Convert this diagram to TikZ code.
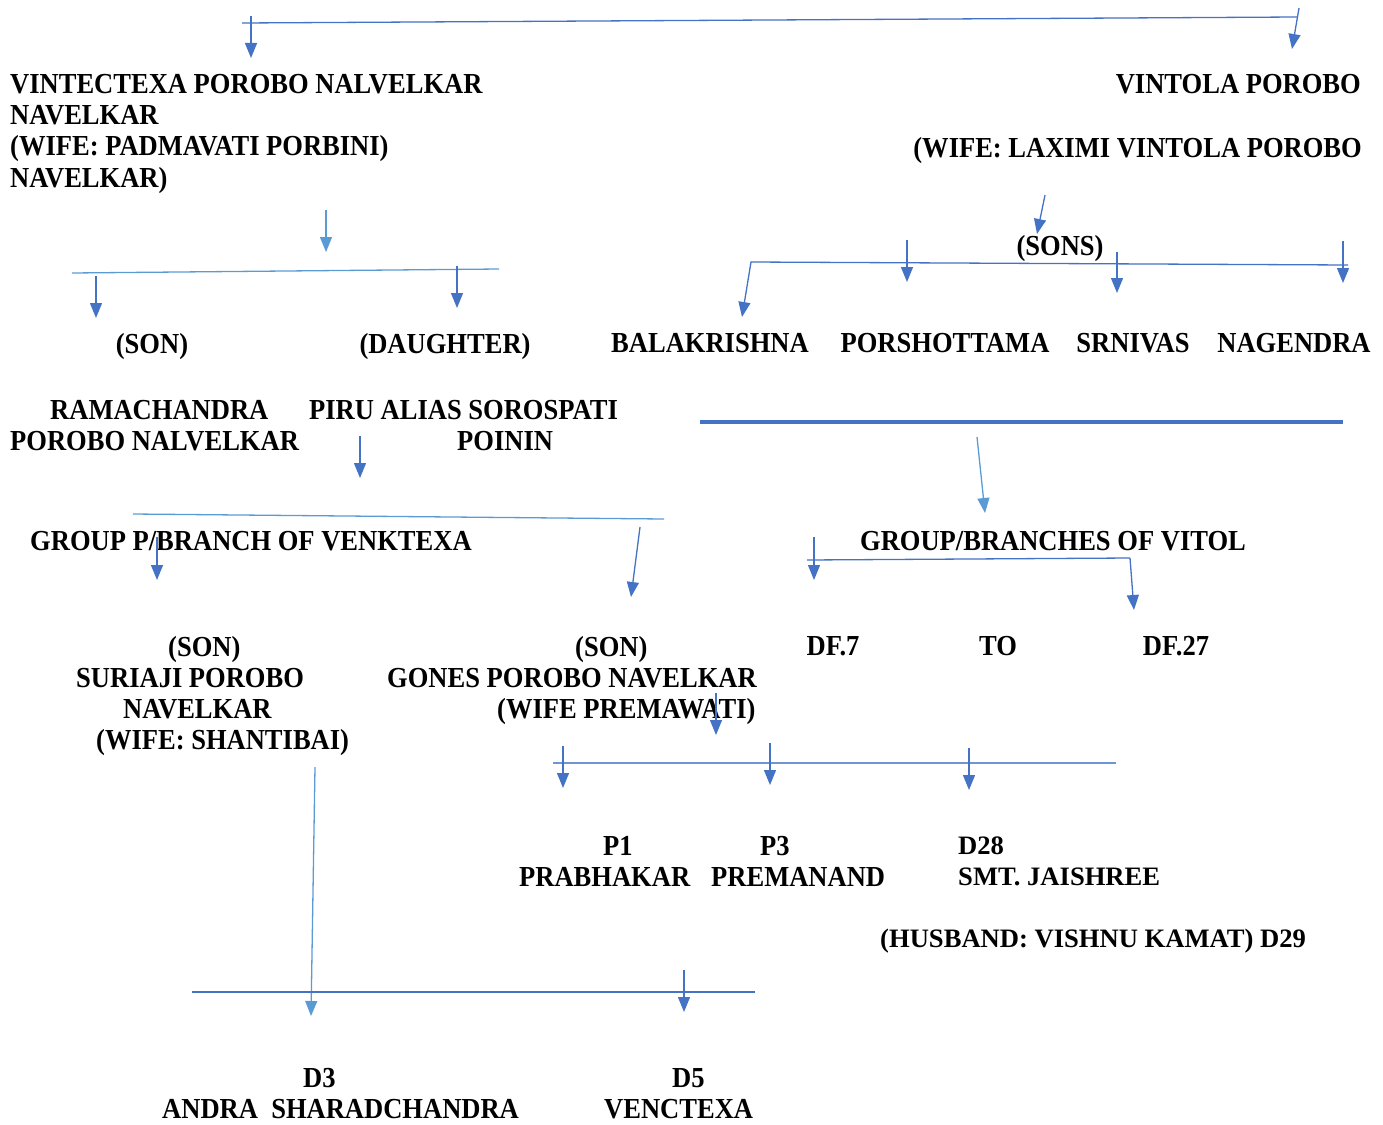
\documentclass[tikz,border=0pt]{standalone}
\usepackage{fontspec}
\setmainfont{Liberation Serif}
\newfontfamily\tallserif[FakeStretch=0.915]{Liberation Serif}
\usetikzlibrary{arrows.meta}
\definecolor{famblue}{HTML}{4472C4}
\definecolor{paleblue}{HTML}{5B9BD5}
\definecolor{barblue}{HTML}{6F95D6}

\tikzset{
  person/.style={inner sep=0pt, anchor=north west, align=left,
    font=\fontsize{29}{31.2}\tallserif\bfseries},
  plainperson/.style={inner sep=0pt, anchor=north west, align=left,
    font=\fontsize{26.6}{31}\selectfont\bfseries},
  link/.style={draw=famblue, line width=1.3pt},
  palelink/.style={draw=paleblue, line width=1.3pt},
  thickbar/.style={draw=famblue, line width=4pt},
}

\begin{document}
\begin{tikzpicture}[x=1pt,y=-1pt,>={Triangle[width=12pt,length=15pt]}]
\useasboundingbox (0,0) rectangle (1383,1124);

% --- people and labels
\node[person] (vintectexa) at (10,74) {VINTECTEXA POROBO NALVELKAR\\NAVELKAR\\(WIFE: PADMAVATI PORBINI)\\NAVELKAR)};
\node[person, anchor=north east] (vintola) at (1361,74) {VINTOLA POROBO};
\node[person, anchor=north east] (laximi) at (1362,137) {(WIFE: LAXIMI VINTOLA POROBO};
\node[person, anchor=north] (sons) at (1060,235) {(SONS)};
\node[person, anchor=north] (son) at (152,333) {(SON)};
\node[person, anchor=north] (daughter) at (445,333) {(DAUGHTER)};
\node[person, anchor=north] (balakrishna) at (710,333) {BALAKRISHNA};
\node[person, anchor=north] (porshottama) at (945,333) {PORSHOTTAMA};
\node[person, anchor=north] (srnivas) at (1133,333) {SRNIVAS};
\node[person, anchor=north] (nagendra) at (1294,333) {NAGENDRA};
\node[person] (ramachandra) at (10,400) {\hspace*{40pt}RAMACHANDRA\\POROBO NALVELKAR};
\node[person] (piru) at (309,400) {PIRU ALIAS SOROSPATI\\\hspace*{148pt}POININ};
\node[person] (venktexa) at (30,531) {GROUP P/BRANCH OF VENKTEXA};
\node[person, anchor=north] (vitol) at (1053,531) {GROUP/BRANCHES OF VITOL};
\node[person] (suriaji) at (76,636) {\hspace*{92pt}(SON)\\SURIAJI POROBO\\\hspace*{47pt}NAVELKAR\\\hspace*{20pt}(WIFE: SHANTIBAI)};
\node[person] (gones) at (387,636) {\hspace*{188pt}(SON)\\GONES POROBO NAVELKAR\\\hspace*{110pt}(WIFE PREMAWATI)};
\node[person, anchor=north] (dfseven) at (833,636) {DF.7};
\node[person, anchor=north] (upto) at (998,636) {TO};
\node[person, anchor=north] (dftwentyseven) at (1176,636) {DF.27};
\node[person] (prabhakar) at (519,836) {\hspace*{84pt}P1\\PRABHAKAR};
\node[person] (premanand) at (711,836) {\hspace*{49pt}P3\\PREMANAND};
\node[plainperson] (jaishree) at (958,837) {D28\\SMT. JAISHREE};
\node[plainperson] (kamat) at (880,929) {(HUSBAND: VISHNU KAMAT) D29};
\node[person] (sharad) at (162,1068) {\hspace*{141pt}D3\\ANDRA\ \ SHARADCHANDRA};
\node[person] (venctexa) at (604,1068) {\hspace*{68pt}D5\\VENCTEXA};

% --- bar and arrow ends
\coordinate (topL) at (242,23);   \coordinate (topR) at (1297,17);
\coordinate (vinA) at (251,16);   \coordinate (vinB) at (251,58);
\coordinate (volA) at (1299,8);   \coordinate (volB) at (1292,49);
\coordinate (kidA) at (326,210);  \coordinate (kidB) at (326,252);
\coordinate (kidL) at (72,273);   \coordinate (kidR) at (499,269);
\coordinate (sonA) at (96,276);   \coordinate (sonB) at (96,318);
\coordinate (dauA) at (457,266);  \coordinate (dauB) at (457,308);
\coordinate (snsA) at (1045,195); \coordinate (snsB) at (1037,234);
\coordinate (snsL) at (751,262);  \coordinate (snsR) at (1348,265);
\coordinate (balB) at (742,317);
\coordinate (porA) at (907,240);  \coordinate (porB) at (907,282);
\coordinate (srnA) at (1117,252); \coordinate (srnB) at (1117,293);
\coordinate (nagA) at (1343,241); \coordinate (nagB) at (1343,283);
\coordinate (sepL) at (700,422);  \coordinate (sepR) at (1343,422);
\coordinate (vitA) at (977,437);  \coordinate (vitB) at (985,513);
\coordinate (grpA) at (360,436);  \coordinate (grpB) at (360,478);
\coordinate (grpL) at (133,514);  \coordinate (grpR) at (664,519);
\coordinate (surA) at (157,537);  \coordinate (surB) at (157,580);
\coordinate (gonA) at (640,527);  \coordinate (gonB) at (631,597);
\coordinate (dfsA) at (814,537);  \coordinate (dfsB) at (814,580);
\coordinate (dfL) at (807,560);   \coordinate (dfR) at (1130,558);
\coordinate (dftB) at (1134,610);
\coordinate (pkA) at (716,693);   \coordinate (pkB) at (716,735);
\coordinate (pkL) at (553,763);   \coordinate (pkR) at (1116,763);
\coordinate (p1A) at (563,746);   \coordinate (p1B) at (563,788);
\coordinate (p3A) at (770,743);   \coordinate (p3B) at (770,785);
\coordinate (d28A) at (969,748);  \coordinate (d28B) at (969,790);
\coordinate (shA) at (315,767);   \coordinate (shB) at (311,1016);
\coordinate (dL) at (192,992);    \coordinate (dR) at (755,992);
\coordinate (d5A) at (684,970);   \coordinate (d5B) at (684,1012);

% --- connectors
\draw[link] (topL) -- (topR);
\draw[link,->] (vinA) -- (vinB);
\draw[link,->] (volA) -- (volB);
\draw[palelink,->] (kidA) -- (kidB);
\draw[palelink] (kidL) -- (kidR);
\draw[link,->] (sonA) -- (sonB);
\draw[link,->] (dauA) -- (dauB);
\draw[link,->] (snsA) -- (snsB);
\draw[link,->] (snsR) -- (snsL) -- (balB);
\draw[link,->] (porA) -- (porB);
\draw[link,->] (srnA) -- (srnB);
\draw[link,->] (nagA) -- (nagB);
\draw[thickbar] (sepL) -- (sepR);
\draw[palelink,->] (vitA) -- (vitB);
\draw[link,->] (grpA) -- (grpB);
\draw[palelink] (grpL) -- (grpR);
\draw[link,->] (surA) -- (surB);
\draw[link,->] (gonA) -- (gonB);
\draw[link,->] (dfsA) -- (dfsB);
\draw[link] (dfL) -- (dfR);
\draw[link,->] (dfR) -- (dftB);
\draw[link,->] (pkA) -- (pkB);
\draw[draw=barblue, line width=1.3pt] (pkL) -- (pkR);
\draw[link,->] (p1A) -- (p1B);
\draw[link,->] (p3A) -- (p3B);
\draw[link,->] (d28A) -- (d28B);
\draw[palelink,->] (shA) -- (shB);
\draw[link] (dL) -- (dR);
\draw[link,->] (d5A) -- (d5B);
\end{tikzpicture}
\end{document}
